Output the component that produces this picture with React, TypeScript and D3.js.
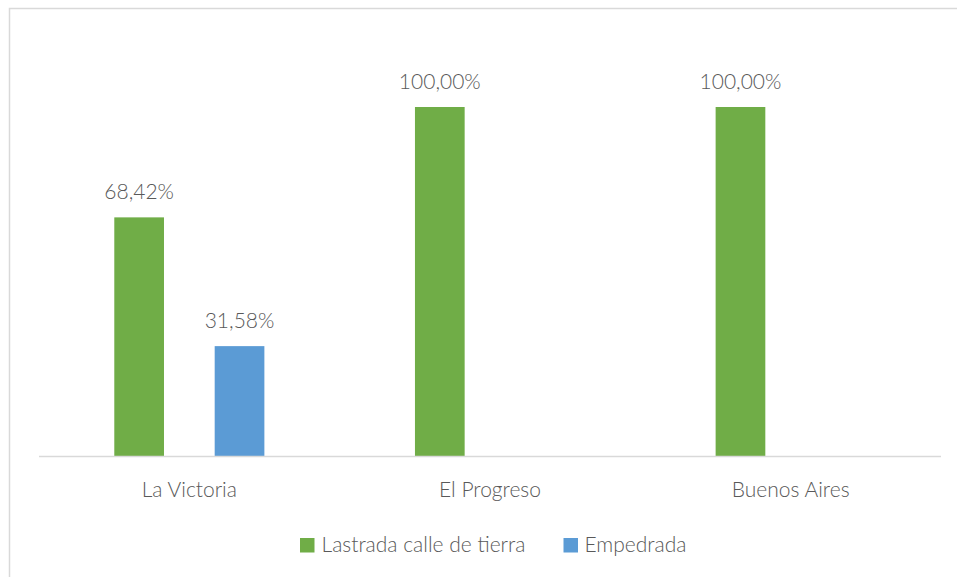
import React from "react";
import * as d3 from "d3";

const categories = ["La Victoria", "El Progreso", "Buenos Aires"];
const seriesNames = ["Lastrada calle de tierra", "Empedrada"];
const lastrada = [0.6842, 1.0, 1.0];
const empedrada = [0.3158, null, null];
const seriesColors = ["#70AD47", "#5B9BD5"];

const W = 957;
const H = 577;
const FONT = "Lato, 'Open Sans', sans-serif";

export default function App() {
  const x0 = d3.scaleBand<string>().domain(categories).range([39, 941]).paddingInner(0).paddingOuter(0);
  const x1 = d3.scaleBand<string>().domain(seriesNames).range([0, x0.bandwidth()]).paddingInner(0.505).paddingOuter(0.75);
  const y = d3.scaleLinear().domain([0, 1.2]).range([456.5, 37.1]);
  const fmt = (v: number) => (v * 100).toFixed(2).replace(".", ",") + "%";
  const series = [lastrada, empedrada];

  return (
    <svg width={W} height={H} style={{ position: "absolute", left: 0, top: 0, background: "#fff" }} fontFamily={FONT}>
      <rect x={9.5} y={8.5} width={980} height={600} fill="#fff" stroke="#D9D9D9" strokeWidth={1.5} />
      {series.map((vals, si) =>
        categories.map((c, ci) => {
          const v = vals[ci];
          if (v == null) return null;
          const bx = (x0(c) as number) + (x1(seriesNames[si]) as number);
          const bw = x1.bandwidth();
          return (
            <g key={`${si}-${ci}`}>
              <rect x={bx} y={y(v)} width={bw} height={y(0) - y(v)} fill={seriesColors[si]} />
              <text x={bx + bw / 2} y={y(v) - 18} textAnchor="middle" fontSize={21} fontWeight={300} fill="#595959">
                {fmt(v)}
              </text>
            </g>
          );
        })
      )}
      <line x1={39} x2={941} y1={y(0)} y2={y(0)} stroke="#D9D9D9" strokeWidth={1.5} />
      {categories.map((c) => (
        <text key={c} x={(x0(c) as number) + x0.bandwidth() / 2} y={496.5} textAnchor="middle" fontSize={21} fontWeight={300} fill="#595959">
          {c}
        </text>
      ))}
      <g>
        <rect x={300} y={538} width={14.5} height={14.5} fill={seriesColors[0]} />
        <text x={321.5} y={551.5} fontSize={21} fontWeight={300} fill="#595959">{seriesNames[0]}</text>
        <rect x={563.5} y={538} width={14.5} height={14.5} fill={seriesColors[1]} />
        <text x={584.5} y={551.5} fontSize={21} fontWeight={300} fill="#595959">{seriesNames[1]}</text>
      </g>
    </svg>
  );
}
